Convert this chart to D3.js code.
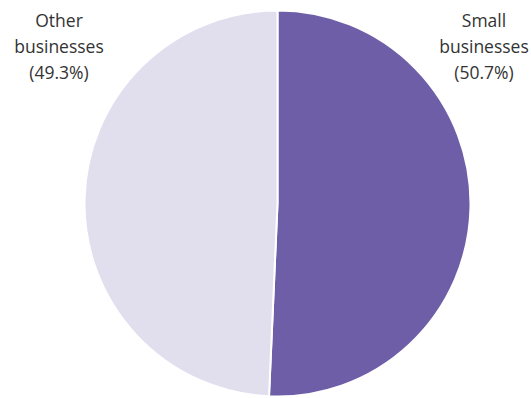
<!DOCTYPE html>
<html>
<head>
<meta charset="utf-8">
<script src="https://cdn.jsdelivr.net/npm/d3@7/dist/d3.min.js"></script>
<style>
  html, body { margin: 0; padding: 0; background: #ffffff; }
  svg { display: block; }
  text { font-family: "Open Sans", "Noto Sans", sans-serif; fill: #333333; }
</style>
</head>
<body>
<svg id="chart" width="531" height="398"></svg>
<script>
// Share of businesses by size
const categories = ["Small businesses", "Other businesses"];
const shares = [50.7, 49.3];
const labelLines = [
  ["Small", "businesses", "(50.7%)"],
  ["Other", "businesses", "(49.3%)"]
];
const colors = ["#6e5ea8", "#e1dfee"];

const svg = d3.select("#chart");
const cx = 277.5, cy = 203.5, radius = 193;

const data = categories.map((c, i) => ({ name: c, value: shares[i], lines: labelLines[i], color: colors[i] }));

const pie = d3.pie().value(d => d.value).sort(null);
const arc = d3.arc().innerRadius(0).outerRadius(radius);

const g = svg.append("g").attr("transform", `translate(${cx},${cy})`);
g.selectAll("path")
  .data(pie(data))
  .join("path")
  .attr("d", arc)
  .attr("fill", d => d.data.color)
  .attr("stroke", "#ffffff")
  .attr("stroke-width", 2);

// Labels sit in the upper corners, outside the pie
const labelPos = [{ x: 484, y: 27 }, { x: 59, y: 27 }];
data.forEach((d, i) => {
  const t = svg.append("text")
    .attr("text-anchor", "middle")
    .attr("font-size", 17.5);
  d.lines.forEach((line, j) => {
    t.append("tspan")
      .attr("x", labelPos[i].x)
      .attr("y", labelPos[i].y + j * 26)
      .text(line);
  });
});
</script>
</body>
</html>
